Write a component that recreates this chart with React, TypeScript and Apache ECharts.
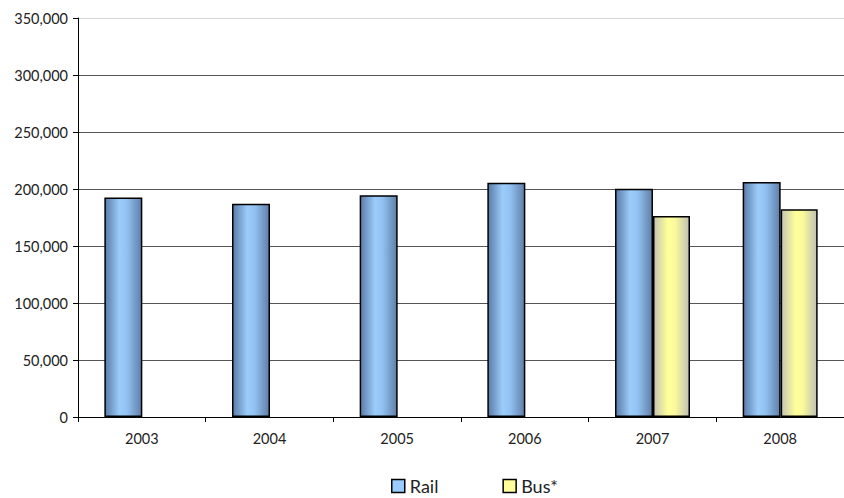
import React, { useEffect, useRef } from "react";
import * as echarts from "echarts";

const years = ["2003", "2004", "2005", "2006", "2007", "2008"];
const rail = [192500, 187000, 194500, 205500, 200300, 206200];
const bus: (number | string)[] = ["-", "-", "-", "-", 176300, 182200];
const yTicks = [0, 50000, 100000, 150000, 200000, 250000, 300000, 350000];

const font = "Lato, 'Open Sans', sans-serif";

export default function App() {
  const ref = useRef<HTMLDivElement>(null);
  useEffect(() => {
    if (!ref.current) return;
    const chart = echarts.init(ref.current, null, { renderer: "svg" });
    const railGrad = new echarts.graphic.LinearGradient(0, 0, 1, 0, [
      { offset: 0, color: "#5a7ba6" },
      { offset: 0.4, color: "#9cccfc" },
      { offset: 0.6, color: "#92c2f2" },
      { offset: 1, color: "#5f7fa8" },
    ]);
    const busGrad = new echarts.graphic.LinearGradient(0, 0, 1, 0, [
      { offset: 0, color: "#c4c4b4" },
      { offset: 0.4, color: "#ffff99" },
      { offset: 0.6, color: "#fafa9c" },
      { offset: 1, color: "#c0c0b4" },
    ]);
    chart.setOption({
      animation: false,
      backgroundColor: "#ffffff",
      textStyle: { fontFamily: font },
      grid: { left: 78, top: 18, width: 775, height: 399, containLabel: false },
      legend: {
        top: 472,
        left: 386,
        padding: 5,
        itemWidth: 13,
        itemHeight: 13,
        itemGap: 64,
        icon: "rect",
        textStyle: { fontFamily: font, fontSize: 18, lineHeight: 18, color: "#222" },
        data: [
          { name: "Rail", itemStyle: { color: "#99ccff", borderColor: "#000", borderWidth: 1.5 } },
          { name: "Bus*", itemStyle: { color: "#ffff99", borderColor: "#000", borderWidth: 1.5 } },
        ],
      },
      xAxis: {
        type: "category",
        data: years,
        axisLine: { lineStyle: { color: "#000", width: 1 } },
        axisTick: { show: true, length: 5, lineStyle: { color: "#000" } },
        axisLabel: { fontFamily: font, fontSize: 14.5, color: "#222", margin: 14 },
      },
      yAxis: {
        type: "value",
        min: 0,
        max: 350000,
        interval: 50000,
        axisLine: { show: true, lineStyle: { color: "#000", width: 1 } },
        axisTick: { show: true, length: 5, lineStyle: { color: "#000" } },
        axisLabel: {
          fontFamily: font,
          fontSize: 14.5,
          color: "#222",
          margin: 10,
          formatter: (v: number) => (yTicks.includes(v) ? v.toLocaleString("en-US") : ""),
        },
        splitLine: {
          show: true,
          lineStyle: {
            color: ["#555", "#555", "#555", "#555", "#555", "#555", "#555", "#d8d8d8"],
            width: 1,
          },
        },
      },
      series: [
        {
          name: "Rail",
          type: "bar",
          data: rail,
          barWidth: 38,
          barGap: "0%",
          itemStyle: { color: railGrad, borderColor: "#000", borderWidth: 1.5 },
        },
        {
          name: "Bus*",
          type: "bar",
          data: bus,
          barWidth: 37,
          barGap: "0%",
          itemStyle: { color: busGrad, borderColor: "#000", borderWidth: 1.5 },
        },
      ],
    });
    return () => chart.dispose();
  }, []);
  return <div ref={ref} style={{ width: 844, height: 498, position: "absolute", left: 0, top: 0 }} />;
}
